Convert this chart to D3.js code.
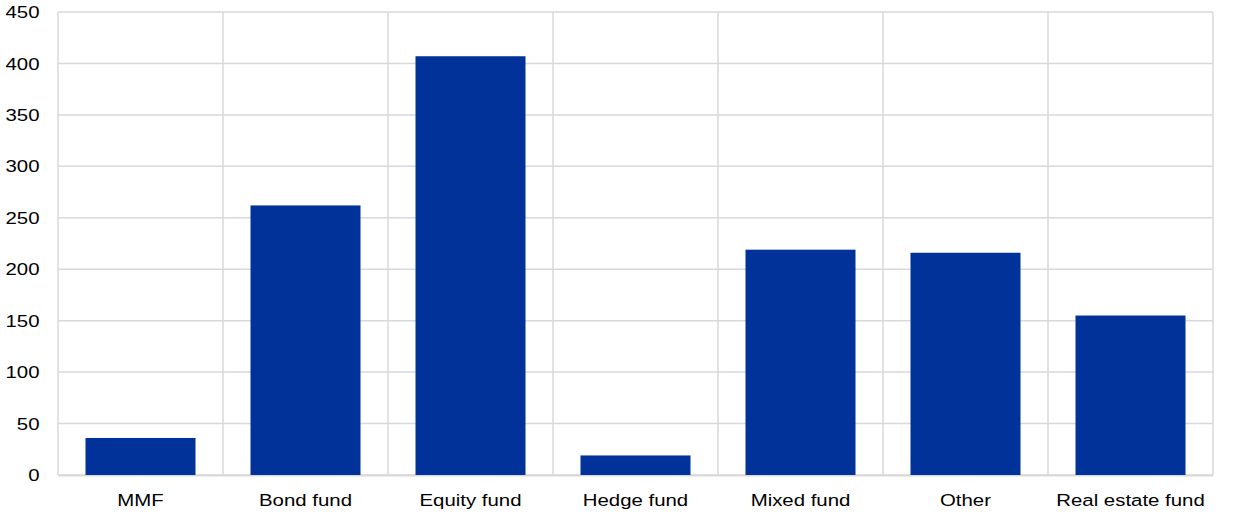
<!DOCTYPE html>
<html>
<head>
<meta charset="utf-8">
<script src="https://cdn.jsdelivr.net/npm/d3@7"></script>
<style>
html,body{margin:0;padding:0;background:#fff;}
svg{display:block;}
text{font-family:"Liberation Sans",Arial,sans-serif;fill:#000;}
</style>
</head>
<body>
<svg id="chart" width="1240" height="517"></svg>
<script>
const categories = ["MMF","Bond fund","Equity fund","Hedge fund","Mixed fund","Other","Real estate fund"];
const values = [36, 262, 407, 19, 219, 216, 155];
const yTicks = [0,50,100,150,200,250,300,350,400,450];

(function () {
const svg = d3.select("#chart");
const mLeft = 58, mRight = 1213, mTop = 12, mBottom = 475;
const fontSize = 17, sx = 1.2;

const x = d3.scaleBand().domain(categories).range([mLeft, mRight]).paddingInner(1/3).paddingOuter(1/6);
const y = d3.scaleLinear().domain([0, 450]).range([mBottom, mTop]);

const grid = svg.append("g").attr("stroke", "#d9d9d9").attr("stroke-width", 1.5);
grid.selectAll("line.h").data(yTicks).join("line")
  .attr("x1", mLeft).attr("x2", mRight)
  .attr("y1", d => y(d)).attr("y2", d => y(d));
const step = x.step();
const bounds = d3.range(categories.length + 1).map(i => mLeft + i * step);
grid.selectAll("line.v").data(bounds).join("line")
  .attr("x1", d => d).attr("x2", d => d)
  .attr("y1", mTop).attr("y2", mBottom);
svg.append("line").attr("x1", mLeft).attr("x2", mRight).attr("y1", mBottom + 0.5).attr("y2", mBottom + 0.5)
  .attr("stroke", "#d9d9d9").attr("stroke-width", 2);

svg.append("g").selectAll("rect").data(values).join("rect")
  .attr("x", (d, i) => x(categories[i]))
  .attr("width", x.bandwidth())
  .attr("y", d => y(d))
  .attr("height", d => mBottom - y(d))
  .attr("fill", "#003299");

svg.append("g").selectAll("text").data(yTicks).join("text")
  .attr("transform", d => `translate(39.5,${y(d) + fontSize * 0.36}) scale(${sx},1)`)
  .attr("text-anchor", "end")
  .attr("font-size", fontSize)
  .text(d => d);

svg.append("g").selectAll("text").data(categories).join("text")
  .attr("transform", d => `translate(${x(d) + x.bandwidth() / 2},506) scale(${sx},1)`)
  .attr("text-anchor", "middle")
  .attr("font-size", fontSize)
  .text(d => d);
})();
</script>
</body>
</html>
